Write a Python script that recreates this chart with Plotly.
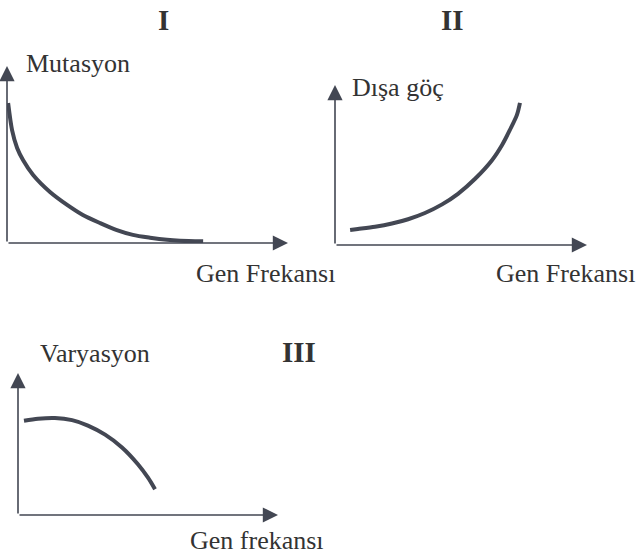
import plotly.graph_objects as go

W, H = 641, 556

# Curve samples for each schematic (axis units: 0-100 along each arrow)
mut_x = [0.4, 1.8, 3.6, 5.7, 9.3, 15.3, 21.4, 27.0, 33.1, 39.1, 44.8, 50.9, 56.9, 61.6, 69.8]
mut_y = [79.1, 63.8, 53.7, 46.9, 38.4, 28.8, 21.5, 15.8, 11.3, 7.3, 4.6, 3.0, 1.8, 1.3, 1.0]

goc_x = [6.0, 9.1, 15.9, 22.6, 29.0, 35.7, 42.5, 48.8, 55.6, 62.3, 66.3, 69.4, 72.2, 73.4]
goc_y = [9.4, 10.0, 11.4, 13.4, 16.1, 20.0, 25.4, 32.0, 41.4, 53.0, 62.5, 71.9, 81.3, 88.8]

var_x = [2.3, 7.7, 14.2, 20.8, 26.9, 33.5, 40.0, 46.2, 50.0, 52.7]
var_y = [66.4, 67.8, 68.3, 66.8, 63.0, 56.6, 47.6, 35.6, 26.3, 18.2]

panel_titles = ["I", "II", "III"]
y_labels = ["Mutasyon", "Dışa göç", "Varyasyon"]
x_labels = ["Gen Frekansı", "Gen Frekansı", "Gen frekansı"]

INK = "#434753"
TEXT = "#333333"
FONT = "Liberation Serif, Times New Roman, serif"

# axis boxes in pixels: (origin_x, origin_y, x_tip, y_tip)
boxes = [(7, 243, 288, 66), (335, 245, 587, 85), (18, 515, 278, 373)]

fig = go.Figure()
series = [(mut_x, mut_y), (goc_x, goc_y), (var_x, var_y)]

for i, ((ox, oy, xt, yt), (xs, ys)) in enumerate(zip(boxes, series), start=1):
    xa = "xaxis" if i == 1 else f"xaxis{i}"
    ya = "yaxis" if i == 1 else f"yaxis{i}"
    xr = "x" if i == 1 else f"x{i}"
    yr = "y" if i == 1 else f"y{i}"
    fig.add_trace(go.Scatter(x=xs, y=ys, mode="lines", xaxis=xr, yaxis=yr,
                             line=dict(color=INK, width=4, shape="spline", smoothing=0.8),
                             hoverinfo="skip", showlegend=False))
    fig.update_layout({
        xa: dict(domain=[ox / W, xt / W], range=[0, 100], visible=False,
                 anchor=yr, fixedrange=True),
        ya: dict(domain=[1 - oy / H, 1 - yt / H], range=[0, 100], visible=False,
                 anchor=xr, fixedrange=True),
    })
    # arrowed axes
    for tx, ty in [(100, 0), (0, 100)]:
        fig.add_annotation(x=tx, y=ty, ax=0, ay=0, xref=xr, yref=yr,
                           axref=xr, ayref=yr, text="", showarrow=True,
                           arrowhead=2, arrowsize=1.9, arrowwidth=1.6,
                           arrowcolor=INK, standoff=0, startstandoff=0)

def label(text, cx, cy, size=26, bold=False):
    fig.add_annotation(x=cx / W, y=1 - cy / H, xref="paper", yref="paper",
                       text=f"<b>{text}</b>" if bold else text, showarrow=False,
                       xanchor="center", yanchor="middle",
                       font=dict(family=FONT, size=size, color=TEXT))

label(panel_titles[0], 163, 20, 29, True)
label(panel_titles[1], 452, 20, 29, True)
label(panel_titles[2], 299, 352, 29, True)

label(y_labels[0], 78, 64)
label(y_labels[1], 398, 87)
label(y_labels[2], 95, 353)

label(x_labels[0], 265, 273)
label(x_labels[1], 565, 273)
label(x_labels[2], 257, 540)

fig.update_layout(width=W, height=H, margin=dict(l=0, r=0, t=0, b=0),
                  paper_bgcolor="white", plot_bgcolor="white")

fig.write_html("out.html")
